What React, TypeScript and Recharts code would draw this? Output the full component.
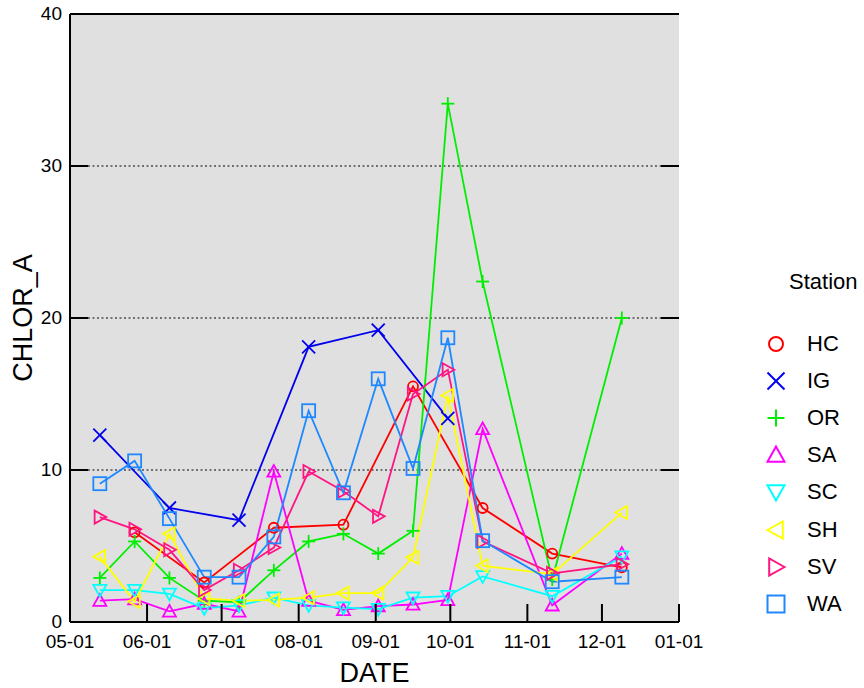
import React from "react";
import {
  LineChart,
  Line,
  XAxis,
  YAxis,
  CartesianGrid,
  ReferenceLine,
  Label,
} from "recharts";

// sampling dates (MM-DD) and CHLOR_A readings per station
const BIWEEKLY = ["05-13", "05-27", "06-10", "06-24", "07-08", "07-22", "08-05", "08-19", "09-02", "09-16", "09-30", "10-14", "11-11", "12-09"];
const HC_DATES = ["05-27", "06-24", "07-22", "08-19", "09-16", "10-14", "11-11", "12-09"];
const IG_DATES = ["05-13", "06-10", "07-08", "08-05", "09-02", "09-30"];

const HC = [5.9, 2.6, 6.2, 6.4, 15.5, 7.5, 4.5, 3.6];
const IG = [12.3, 7.5, 6.7, 18.1, 19.2, 13.4];
const OR = [2.9, 5.3, 2.9, 1.4, 1.3, 3.4, 5.3, 5.8, 4.5, 6.0, 34.1, 22.4, 2.8, 20.0];
const SA = [1.4, 1.5, 0.7, 1.2, 0.7, 9.9, 1.4, 0.8, 1.05, 1.15, 1.45, 12.7, 1.1, 4.5];
const SC = [2.1, 2.1, 1.85, 0.9, 1.1, 1.6, 1.1, 0.95, 0.85, 1.6, 1.7, 3.0, 1.7, 4.3];
const SH = [4.3, 1.35, 5.8, 1.55, 1.4, 1.45, 1.6, 1.9, 1.9, 4.25, 14.9, 3.7, 3.15, 7.2];
const SV = [6.9, 6.1, 4.75, 2.1, 3.4, 4.9, 9.9, 8.6, 6.95, 15.0, 16.6, 5.3, 3.2, 3.8];
const WA = [9.1, 10.6, 6.8, 2.95, 2.95, 5.6, 13.9, 8.5, 16.0, 10.1, 18.7, 5.35, 2.65, 2.95];

const MONTH_TICKS = ["2001-05-01", "2001-06-01", "2001-07-01", "2001-08-01", "2001-09-01", "2001-10-01", "2001-11-01", "2001-12-01", "2002-01-01"];
const Y_TICKS = [0, 10, 20, 30, 40];
const GRID_VALUES = [10, 20, 30];

const toTime = (md: string) => {
  const [m, d] = md.split("-").map(Number);
  return Date.UTC(2001, m - 1, d);
};
const isoTime = (s: string) => Date.parse(s + "T00:00:00Z");

const series = [
  { name: "HC", dates: HC_DATES, values: HC, color: "#ff0000", shape: "circle" },
  { name: "IG", dates: IG_DATES, values: IG, color: "#0000ee", shape: "x" },
  { name: "OR", dates: BIWEEKLY, values: OR, color: "#00ee00", shape: "plus" },
  { name: "SA", dates: BIWEEKLY, values: SA, color: "#ff00ff", shape: "up" },
  { name: "SC", dates: BIWEEKLY, values: SC, color: "#00ffff", shape: "down" },
  { name: "SH", dates: BIWEEKLY, values: SH, color: "#ffff00", shape: "left" },
  { name: "SV", dates: BIWEEKLY, values: SV, color: "#ff1483", shape: "right" },
  { name: "WA", dates: BIWEEKLY, values: WA, color: "#1e88ff", shape: "square" },
];

const FONT = "'Liberation Sans', Arial, sans-serif";
const PLOT_W = 609;
const TICK_LEN = 18;

function Marker({ shape, cx, cy, color, s = 6.5, sw = 1.8 }: any) {
  const p = { fill: "none", stroke: color, strokeWidth: sw };
  switch (shape) {
    case "circle":
      return <circle cx={cx} cy={cy} r={s - 1.5} {...p} />;
    case "x":
      return (
        <g {...p}>
          <line x1={cx - s} y1={cy - s} x2={cx + s} y2={cy + s} />
          <line x1={cx - s} y1={cy + s} x2={cx + s} y2={cy - s} />
        </g>
      );
    case "plus":
      return (
        <g {...p}>
          <line x1={cx - s} y1={cy} x2={cx + s} y2={cy} />
          <line x1={cx} y1={cy - s} x2={cx} y2={cy + s} />
        </g>
      );
    case "up":
      return <polygon points={`${cx},${cy - s} ${cx - s},${cy + s * 0.8} ${cx + s},${cy + s * 0.8}`} {...p} />;
    case "down":
      return <polygon points={`${cx},${cy + s} ${cx - s},${cy - s * 0.8} ${cx + s},${cy - s * 0.8}`} {...p} />;
    case "left":
      return <polygon points={`${cx - s},${cy} ${cx + s * 0.8},${cy - s} ${cx + s * 0.8},${cy + s}`} {...p} />;
    case "right":
      return <polygon points={`${cx + s},${cy} ${cx - s * 0.8},${cy - s} ${cx - s * 0.8},${cy + s}`} {...p} />;
    default:
      return <rect x={cx - s} y={cy - s} width={2 * s} height={2 * s} {...p} />;
  }
}

const fmtDate = (t: number) => {
  const d = new Date(t);
  const mm = String(d.getUTCMonth() + 1).padStart(2, "0");
  const dd = String(d.getUTCDate()).padStart(2, "0");
  return `${mm}-${dd}`;
};

function XTick({ x, y, payload }: any) {
  return (
    <g>
      <line x1={x} x2={x} y1={y} y2={y - TICK_LEN} stroke="#000" strokeWidth={2} />
      <text x={x} y={y + 26} textAnchor="middle" fontSize={19} fontFamily={FONT} fill="#000">
        {fmtDate(payload.value)}
      </text>
    </g>
  );
}

function YTick({ x, y, payload }: any) {
  return (
    <g>
      <line x1={x} x2={x + TICK_LEN} y1={y} y2={y} stroke="#000" strokeWidth={2} />
      <line x1={x + PLOT_W - TICK_LEN} x2={x + PLOT_W} y1={y} y2={y} stroke="#000" strokeWidth={2} />
      <text x={x - 8} y={y + 6} textAnchor="end" fontSize={19} fontFamily={FONT} fill="#000">
        {payload.value}
      </text>
    </g>
  );
}

export default function App() {
  const domain = [isoTime(MONTH_TICKS[0]), isoTime(MONTH_TICKS[MONTH_TICKS.length - 1])];
  const xTicks = MONTH_TICKS.map(isoTime);

  return (
    <div style={{ position: "relative", width: 864, height: 688, overflow: "hidden", fontFamily: FONT }}>
      <style>{"body{margin:0}"}</style>
      <LineChart width={864} height={688} margin={{ top: 14, right: 185, left: 0, bottom: 0 }}>
        <CartesianGrid
          vertical={false}
          horizontalValues={GRID_VALUES}
          stroke="#000"
          strokeDasharray="2 2.5"
          fill="#e0e0e0"
          fillOpacity={1}
        />
        <XAxis
          dataKey="t"
          type="number"
          scale="time"
          domain={domain}
          ticks={xTicks}
          interval={0}
          allowDataOverflow
          height={66}
          tickSize={0}
          tickMargin={0}
          tickLine={false}
          tick={<XTick />}
          axisLine={{ stroke: "#000", strokeWidth: 2 }}
        >
          <Label
            content={({ viewBox }: any) => (
              <text
                x={viewBox.x + viewBox.width / 2}
                y={viewBox.y + viewBox.height - 6}
                textAnchor="middle"
                fontSize={27}
                fontFamily={FONT}
                fill="#000"
              >
                DATE
              </text>
            )}
          />
        </XAxis>
        <YAxis
          type="number"
          domain={[0, 40]}
          ticks={Y_TICKS}
          interval={0}
          width={70}
          tickSize={0}
          tickMargin={0}
          tickLine={false}
          tick={<YTick />}
          axisLine={{ stroke: "#000", strokeWidth: 2 }}
        >
          <Label
            content={({ viewBox }: any) => {
              const cx = 22.5;
              const cy = viewBox.y + viewBox.height / 2;
              return (
                <text
                  x={cx}
                  y={cy}
                  transform={`rotate(-90, ${cx}, ${cy})`}
                  textAnchor="middle"
                  dominantBaseline="central"
                  fontSize={27}
                  fontFamily={FONT}
                  fill="#000"
                >
                  CHLOR_A
                </text>
              );
            }}
          />
        </YAxis>
        <YAxis
          yAxisId="right"
          orientation="right"
          domain={[0, 40]}
          width={0}
          tick={false}
          tickLine={false}
          axisLine={{ stroke: "#000", strokeWidth: 2 }}
        />
        <ReferenceLine y={40} stroke="#000" strokeWidth={2} ifOverflow="visible" />
        {series.map((s) => (
          <Line
            key={s.name}
            name={s.name}
            data={s.dates.map((d, i) => ({ t: toTime(d), v: s.values[i] }))}
            dataKey="v"
            type="linear"
            stroke={s.color}
            strokeWidth={1.8}
            isAnimationActive={false}
            activeDot={false}
            dot={(p: any) => (
              <Marker key={`${s.name}-${p.index}`} shape={s.shape} cx={p.cx} cy={p.cy} color={s.color} />
            )}
          />
        ))}
      </LineChart>

      <div style={{ position: "absolute", left: 789, top: 269, fontSize: 22, color: "#000" }}>Station</div>
      {series.map((s, i) => (
        <div
          key={s.name}
          style={{ position: "absolute", left: 763, top: 329 + i * 37.1, height: 30, display: "flex", alignItems: "center" }}
        >
          <svg width={26} height={26} style={{ marginRight: 18 }}>
            <Marker shape={s.shape} cx={13} cy={13} color={s.color} s={8.5} sw={2} />
          </svg>
          <span style={{ fontSize: 22, color: "#000" }}>{s.name}</span>
        </div>
      ))}
    </div>
  );
}
